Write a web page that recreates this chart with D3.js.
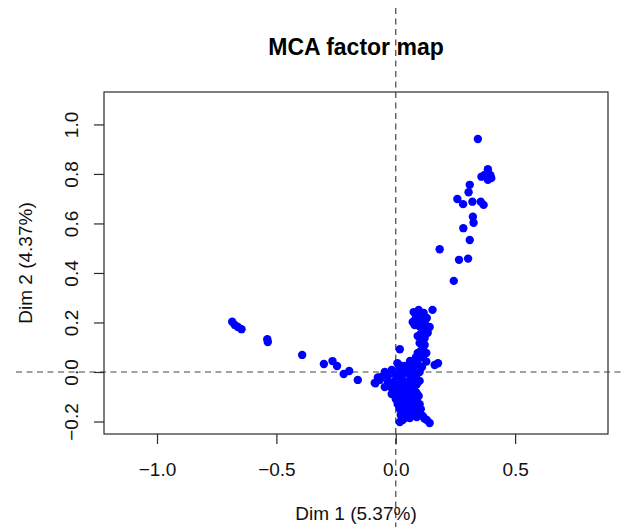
<!DOCTYPE html>
<html>
<head>
<meta charset="utf-8">
<script src="https://cdn.jsdelivr.net/npm/d3@7"></script>
<style>
  html, body { margin: 0; padding: 0; background: #fff; }
  svg { display: block; font-family: "Liberation Sans", Arial, sans-serif; }
</style>
</head>
<body>
<svg id="chart" width="623" height="527"></svg>
<script>
// MCA individuals: coordinates on the first two dimensions
const dim1 = [
  // upper arm
  0.344, 0.386, 0.372, 0.396, 0.386, 0.359, 0.400, 0.310, 0.305, 0.258, 0.282,
  0.321, 0.356, 0.368, 0.323, 0.326, 0.283, 0.310, 0.184, 0.265, 0.303, 0.243,
  // left arm
  -0.685, -0.674, -0.661, -0.646, -0.538, -0.536, -0.392, -0.301, -0.265,
  -0.246, -0.218, -0.195, -0.159, -0.085,
  // isolated near origin
  0.017, 0.007, 0.177, 0.154,
  // vertical stem
  0.075, 0.096, 0.117, 0.084, 0.109, 0.071, 0.079, 0.114, 0.134, 0.121, 0.100,
  0.113, 0.128, 0.092, 0.100, 0.059, 0.128, 0.163, 0.142, 0.130, 0.092, 0.121,
  0.067, 0.092, 0.038,
  0.085, 0.105, 0.088, 0.100, 0.125, 0.105, 0.115, 0.105, 0.115, 0.085, 0.075,
  // central cluster
  -0.046, -0.017, 0.017, 0.046, 0.075, 0.100, -0.033, 0.000, 0.033, 0.063,
  -0.088, -0.067, -0.033, -0.004, 0.025, 0.054, 0.084, 0.100,
  -0.046, -0.017, 0.013, 0.042, 0.071,
  -0.017, 0.008, 0.033, 0.059, 0.084,
  0.000, 0.025, 0.050, 0.075, 0.096,
  0.008, 0.033, 0.059, 0.084,
  0.017, 0.042, 0.067, 0.092,
  0.021, 0.046, 0.071, 0.100,
  0.029, 0.059, 0.088, 0.113, 0.130, 0.142, 0.017,
  -0.060, -0.030, 0.005, 0.035, 0.060, 0.088, -0.005, 0.020, 0.045, 0.070,
  0.015, 0.040, 0.065, 0.090, 0.012, 0.038, 0.063, 0.088,
  0.025, 0.050, 0.075, 0.100, 0.030, 0.056, 0.080, 0.105,
  0.040, 0.075, 0.120, 0.010, 0.050, 0.085, -0.075, 0.020, 0.060, 0.110
];
const dim2 = [
  0.941, 0.819, 0.796, 0.796, 0.776, 0.789, 0.783, 0.756, 0.726, 0.699, 0.678,
  0.688, 0.688, 0.675, 0.627, 0.603, 0.581, 0.533, 0.496, 0.453, 0.458, 0.368,
  0.203, 0.190, 0.182, 0.173, 0.132, 0.121, 0.069, 0.032, 0.044,
  0.024, -0.008, 0.004, -0.032, -0.046,
  0.092, 0.035, 0.035, 0.251,
  0.242, 0.251, 0.238, 0.218, 0.210, 0.202, 0.190, 0.170, 0.158, 0.137, 0.117,
  0.097, 0.077, 0.077, 0.057, 0.036, 0.042, 0.028, 0.182, 0.218, 0.145, 0.109,
  0.024, 0.032, 0.024,
  0.230, 0.225, 0.200, 0.185, 0.190, 0.155, 0.125, 0.085, 0.065, 0.060, 0.045,
  0.000, 0.008, 0.012, 0.016, 0.008, 0.000, -0.016, -0.012, -0.008, -0.012,
  -0.044, -0.032, -0.040, -0.036, -0.032, -0.036, -0.028, -0.036,
  -0.061, -0.065, -0.061, -0.057, -0.061,
  -0.089, -0.085, -0.081, -0.085, -0.081,
  -0.109, -0.105, -0.109, -0.105, -0.097,
  -0.129, -0.125, -0.129, -0.125,
  -0.149, -0.145, -0.149, -0.145,
  -0.174, -0.170, -0.166, -0.162,
  -0.194, -0.186, -0.182, -0.178, -0.194, -0.206, -0.202,
  -0.020, -0.050, -0.050, -0.045, -0.050, -0.050, -0.075, -0.070, -0.075, -0.075,
  -0.095, -0.095, -0.095, -0.090, -0.118, -0.117, -0.118, -0.112,
  -0.137, -0.137, -0.137, -0.130, -0.160, -0.158, -0.157, -0.150,
  -0.185, -0.175, -0.188, -0.020, 0.000, -0.015, -0.022, 0.025, 0.045, 0.020
];

const xTicks = [-1.0, -0.5, 0.0, 0.5];
const yTicks = [-0.2, 0.0, 0.2, 0.4, 0.6, 0.8, 1.0];
const chartTitle = "MCA factor map";
const xLabel = "Dim 1 (5.37%)";
const yLabel = "Dim 2 (4.37%)";

const W = 623, H = 527;
const box = { left: 104, right: 608, top: 92, bottom: 434 };

const x = d3.scaleLinear().domain([-1.222, 0.889]).range([box.left, box.right]);
const y = d3.scaleLinear().domain([-0.2505, 1.131]).range([box.bottom, box.top]);

const svg = d3.select("#chart");
const fmt = d3.format(".1f");

// reference lines through the origin, spanning the figure
svg.append("line")
  .attr("x1", 16).attr("x2", W)
  .attr("y1", y(0)).attr("y2", y(0))
  .attr("stroke", "#444").attr("stroke-width", 1.2)
  .attr("stroke-dasharray", "6,4.5");
svg.append("line")
  .attr("x1", x(0)).attr("x2", x(0))
  .attr("y1", 8).attr("y2", H)
  .attr("stroke", "#444").attr("stroke-width", 1.2)
  .attr("stroke-dasharray", "6,4.5");

// plot frame
svg.append("rect")
  .attr("x", box.left).attr("y", box.top)
  .attr("width", box.right - box.left).attr("height", box.bottom - box.top)
  .attr("fill", "none").attr("stroke", "#2a2a2a").attr("stroke-width", 1.2);

// axes
const xAxis = svg.append("g")
  .attr("transform", `translate(0,${box.bottom})`)
  .call(d3.axisBottom(x).tickValues(xTicks).tickFormat(fmt).tickSize(10));
const yAxis = svg.append("g")
  .attr("transform", `translate(${box.left},0)`)
  .call(d3.axisLeft(y).tickValues(yTicks).tickFormat(fmt).tickSize(10));

[xAxis, yAxis].forEach(g => {
  g.select(".domain").remove();
  g.selectAll(".tick line").attr("stroke", "#2a2a2a").attr("stroke-width", 1.2);
  g.selectAll(".tick text")
    .attr("fill", "#111")
    .style("font-size", "19px")
    .style("font-family", "'Liberation Sans', Arial, sans-serif");
});
xAxis.selectAll(".tick text").attr("dy", null).attr("y", 42);
yAxis.selectAll(".tick text")
  .attr("x", null).attr("dy", null)
  .attr("text-anchor", "middle")
  .attr("transform", "translate(-26,0) rotate(-90)");

// points
svg.append("g").selectAll("circle")
  .data(d3.range(dim1.length))
  .join("circle")
  .attr("cx", i => x(dim1[i]))
  .attr("cy", i => y(dim2[i]))
  .attr("r", 4.2)
  .attr("fill", "#0000ff");

// titles
const cx = (box.left + box.right) / 2;
svg.append("text")
  .attr("x", cx).attr("y", 55)
  .attr("text-anchor", "middle")
  .style("font-size", "23px").style("font-weight", "bold")
  .attr("fill", "#000")
  .text(chartTitle);
svg.append("text")
  .attr("x", cx).attr("y", 520)
  .attr("text-anchor", "middle")
  .style("font-size", "19px")
  .attr("fill", "#111")
  .text(xLabel);
svg.append("text")
  .attr("transform", `translate(32,${(box.top + box.bottom) / 2}) rotate(-90)`)
  .attr("text-anchor", "middle")
  .style("font-size", "19px")
  .attr("fill", "#111")
  .text(yLabel);
</script>
</body>
</html>
